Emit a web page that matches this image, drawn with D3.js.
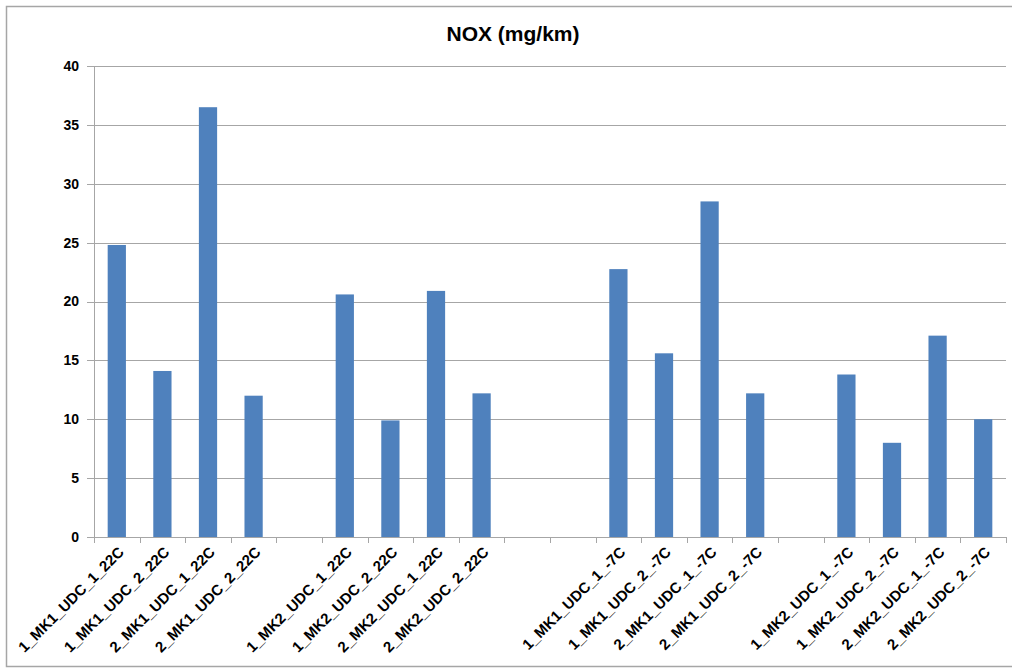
<!DOCTYPE html>
<html><head><meta charset="utf-8">
<script src="https://cdn.jsdelivr.net/npm/d3@7"></script>
<style>body{margin:0;background:#fff;}svg{display:block;}</style>
</head><body>
<svg id="c" width="1012" height="669"></svg>
<script>
const categories = ["1_MK1_UDC_1_22C","1_MK1_UDC_2_22C","2_MK1_UDC_1_22C","2_MK1_UDC_2_22C","",
  "1_MK2_UDC_1_22C","1_MK2_UDC_2_22C","2_MK2_UDC_1_22C","2_MK2_UDC_2_22C","","",
  "1_MK1_UDC_1_-7C","1_MK1_UDC_2_-7C","2_MK1_UDC_1_-7C","2_MK1_UDC_2_-7C","",
  "1_MK2_UDC_1_-7C","1_MK2_UDC_2_-7C","2_MK2_UDC_1_-7C","2_MK2_UDC_2_-7C"];
const values = [24.8,14.1,36.5,12.0,null, 20.6,9.9,20.9,12.2,null,null, 22.75,15.6,28.5,12.2,null, 13.8,8.0,17.1,10.0];
const yTicks = [0,5,10,15,20,25,30,35,40];
const title = "NOX (mg/km)";

const svg = d3.select("#c");
const L = 94, R = 1006, T = 66, B = 537;
svg.append("rect").attr("x",6.5).attr("y",6.5).attr("width",1010).attr("height",660)
  .attr("fill","#fff").attr("stroke","#a6a6a6").attr("stroke-width",1.5);

const idx = categories.map((d,i)=>i);
const x = d3.scaleBand().domain(idx).range([L,R]).paddingInner(0).paddingOuter(0);
const y = d3.scaleLinear().domain([0,40]).range([B,T]);

// gridlines
svg.append("g").selectAll("line").data(yTicks).join("line")
  .attr("x1",L-7).attr("x2",R).attr("y1",d=>Math.round(y(d))+0.5).attr("y2",d=>Math.round(y(d))+0.5)
  .attr("stroke","#a6a6a6").attr("stroke-width",1);

// y axis
const ya = svg.append("g").attr("transform",`translate(${L},0)`)
  .call(d3.axisLeft(y).tickValues(yTicks).tickSize(7).tickPadding(8));
ya.select(".domain").attr("stroke","#a6a6a6").attr("d",`M0.5,${T}V${B}`);
ya.selectAll(".tick line").remove();
ya.selectAll("text").attr("font-family","Liberation Sans, Arial, sans-serif").attr("font-weight","bold")
  .attr("font-size",14).attr("fill","#000");

// bars
const bw = x.bandwidth()*0.4;
svg.append("g").selectAll("rect").data(values.map((v,i)=>({v,i})).filter(d=>d.v!=null)).join("rect")
  .attr("x",d=>x(d.i)+(x.bandwidth()-bw)/2).attr("width",bw)
  .attr("y",d=>y(d.v)).attr("height",d=>B-y(d.v))
  .attr("fill","#4f81bd");

// x axis
const xa = svg.append("g").attr("transform",`translate(0,${B})`)
  .call(d3.axisBottom(x).tickSize(0).tickFormat(i=>categories[i]));
xa.select(".domain").attr("stroke","#a6a6a6").attr("d",`M${L},0.5H${R}`);
xa.append("g").selectAll("line").data(d3.range(categories.length+1)).join("line")
  .attr("x1",i=>Math.round(L+i*x.step())+0.5).attr("x2",i=>Math.round(L+i*x.step())+0.5)
  .attr("y1",0).attr("y2",6).attr("stroke","#a6a6a6");
xa.selectAll(".tick text")
  .attr("font-family","Liberation Sans, Arial, sans-serif").attr("font-weight","bold")
  .attr("font-size",15).attr("fill","#000")
  .attr("text-anchor","end").attr("dy",null).attr("y",0)
  .attr("transform","translate(8,16) rotate(-45)");

svg.append("text").attr("x",513).attr("y",41).attr("text-anchor","middle")
  .attr("font-family","Liberation Sans, Arial, sans-serif").attr("font-weight","bold")
  .attr("font-size",21).text(title);
</script>
</body></html>
